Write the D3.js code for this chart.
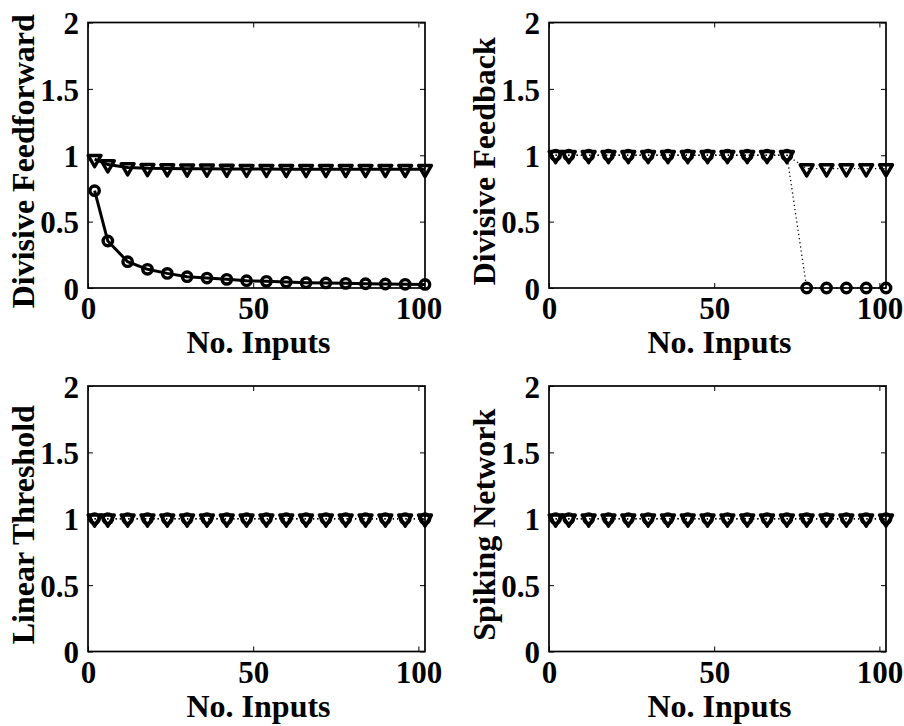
<!DOCTYPE html>
<html>
<head>
<meta charset="utf-8">
<script src="https://cdn.jsdelivr.net/npm/d3@7"></script>
<style>
  body { margin: 0; background: #fff; }
  svg text { font-family: "Liberation Serif", "Times New Roman", Times, serif !important; font-weight: 700; fill: #000; }
</style>
</head>
<body>
<div class="chart"></div>
<script>
// x values (number of inputs) shared by every panel
var inputs = [2, 6, 12, 18, 24, 30, 36, 42, 48, 54, 60, 66, 72, 78, 84, 90, 96, 102];

// series values (o = circles, v = triangles)
var ffCircle = [0.733, 0.354, 0.198, 0.141, 0.110, 0.085, 0.075, 0.065, 0.055, 0.050, 0.045, 0.040, 0.038, 0.035, 0.032, 0.030, 0.028, 0.027];
var ffTri    = [0.970, 0.930, 0.908, 0.902, 0.900, 0.899, 0.898, 0.897, 0.896, 0.896, 0.895, 0.895, 0.895, 0.895, 0.895, 0.895, 0.895, 0.895];
var fbCircle = [1, 1, 1, 1, 1, 1, 1, 1, 1, 1, 1, 1, 1, 0, 0, 0, 0, 0];
var fbTri    = [1, 1, 1, 1, 1, 1, 1, 1, 1, 1, 1, 1, 1, 0.9, 0.9, 0.9, 0.9, 0.9];
var ltCircle = [1, 1, 1, 1, 1, 1, 1, 1, 1, 1, 1, 1, 1, 1, 1, 1, 1, 1];
var ltTri    = [1, 1, 1, 1, 1, 1, 1, 1, 1, 1, 1, 1, 1, 1, 1, 1, 1, 1];
var snCircle = [1, 1, 1, 1, 1, 1, 1, 1, 1, 1, 1, 1, 1, 1, 1, 1, 1, 1];
var snTri    = [1, 1, 1, 1, 1, 1, 1, 1, 1, 1, 1, 1, 1, 1, 1, 1, 1, 1];

var yTicks = [0, 0.5, 1, 1.5, 2];
var yTickLabels = ["0", "0.5", "1", "1.5", "2"];
var xTicks = [0, 50, 100];
var xLabel = "No. Inputs";
var panelNames = ["Divisive Feedforward", "Divisive Feedback", "Linear Threshold", "Spiking Network"];

var svgWidth = 904;
var svgHeight = 726;
var serif = "'Liberation Serif', 'Times New Roman', Times, serif";

var svg = d3.select(".chart")
  .append("svg")
  .attr("width", svgWidth)
  .attr("height", svgHeight);

// panel boxes (left, top) plus the line style used in each
var panels = [
  { x: 88,  y: 22.5, name: panelNames[0], o: ffCircle, v: ffTri, dash: null, lw: 3 },
  { x: 549, y: 22.5, name: panelNames[1], o: fbCircle, v: fbTri, dash: "1.2,3", lw: 1.3 },
  { x: 88,  y: 386,  name: panelNames[2], o: ltCircle, v: ltTri, dash: "1.2,3", lw: 1.3 },
  { x: 549, y: 386,  name: panelNames[3], o: snCircle, v: snTri, dash: "1.2,3", lw: 1.3 }
];
var width = 337;
var height = 265.5;

var xScale = d3.scaleLinear().domain([0, 102]).range([0, width]);
var yScale = d3.scaleLinear().domain([0, 2]).range([height, 0]);

panels.forEach(function(p) {
  var g = svg.append("g").attr("transform", `translate(${p.x}, ${p.y})`);

  // bottom axis with labels, inward ticks
  var bottom = g.append("g")
    .attr("transform", `translate(0, ${height})`)
    .call(d3.axisBottom(xScale).tickValues(xTicks).tickSize(-5).tickPadding(9).tickFormat(d3.format("d")));

  // left axis
  var left = g.append("g")
    .call(d3.axisLeft(yScale).tickValues(yTicks).tickSize(-5).tickPadding(9)
      .tickFormat(function(d, i) { return yTickLabels[i]; }));

  [bottom, left].forEach(function(a) {
    a.attr("font-family", serif).attr("font-size", 31).attr("font-weight", "bold");
  });
  bottom.selectAll("text").attr("dy", "0.72em");
  left.selectAll("text").attr("dy", "0.36em");

  // mirrored ticks on top and right
  g.append("g").call(d3.axisTop(xScale).tickValues(xTicks).tickSize(-5).tickFormat(""));
  g.append("g").attr("transform", `translate(${width}, 0)`)
    .call(d3.axisRight(yScale).tickValues(yTicks).tickSize(-5).tickFormat(""));

  g.selectAll(".domain").remove();
  g.selectAll(".tick line").attr("stroke", "#000").attr("stroke-width", 1);

  g.append("rect")
    .attr("width", width)
    .attr("height", height)
    .attr("fill", "none")
    .attr("stroke", "#000")
    .attr("stroke-width", 1.7);

  var line = d3.line()
    .x(function(d, i) { return xScale(inputs[i]); })
    .y(function(d) { return yScale(d); });

  [p.v, p.o].forEach(function(series) {
    g.append("path")
      .datum(series)
      .attr("d", line)
      .attr("fill", "none")
      .attr("stroke", "#000")
      .attr("stroke-width", p.lw)
      .attr("stroke-dasharray", p.dash);
  });

  // circle markers
  g.selectAll("circle.o")
    .data(p.o)
    .enter()
    .append("circle")
    .attr("class", "o")
    .attr("cx", function(d, i) { return xScale(inputs[i]); })
    .attr("cy", function(d) { return yScale(d); })
    .attr("r", 4.7)
    .attr("fill", "none")
    .attr("stroke", "#000")
    .attr("stroke-width", 3.4);

  // downward triangle markers
  var tri = d3.symbol().type(d3.symbolTriangle).size(72);
  g.selectAll("path.v")
    .data(p.v)
    .enter()
    .append("path")
    .attr("class", "v")
    .attr("d", tri)
    .attr("transform", function(d, i) {
      return `translate(${xScale(inputs[i])}, ${yScale(d)}) rotate(180)`;
    })
    .attr("fill", "none")
    .attr("stroke", "#000")
    .attr("stroke-width", 3.4)
    .attr("stroke-linejoin", "round");

  // axis titles
  g.append("text")
    .attr("transform", `translate(${width / 2 + 2}, ${height + 65})`)
    .attr("text-anchor", "middle")
    .attr("font-family", serif)
    .attr("font-weight", "bold")
    .attr("font-size", 32)
    .text(xLabel);

  g.append("text")
    .attr("transform", `translate(-54, ${height / 2 + 6}) rotate(-90)`)
    .attr("text-anchor", "middle")
    .attr("font-family", serif)
    .attr("font-weight", "bold")
    .attr("font-size", 32)
    .text(p.name);
});
</script>
</body>
</html>
